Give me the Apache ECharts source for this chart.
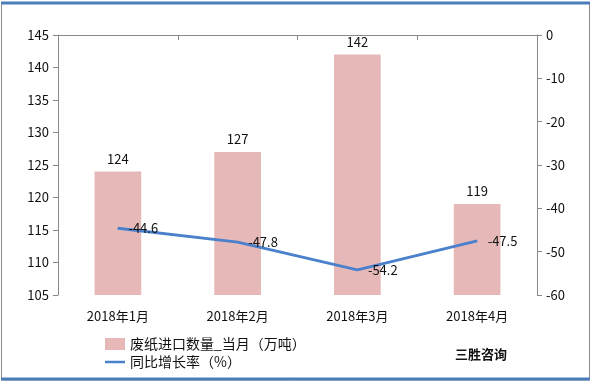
<!DOCTYPE html>
<html><head><meta charset="utf-8">
<script src="https://cdn.jsdelivr.net/npm/echarts@6/dist/echarts.min.js"></script>
<style>html,body{margin:0;padding:0;background:#fff}#c{width:591px;height:384px}</style>
</head><body><div id="c"></div>
<script>
const categories = ['2018年1月','2018年2月','2018年3月','2018年4月'];
const volume = [124, 127, 142, 119];
const growth = [-44.6, -47.8, -54.2, -47.5];
const seriesNames = ['废纸进口数量_当月（万吨）','同比增长率（%）'];

const chart = echarts.init(document.getElementById('c'));
const font = '"Microsoft YaHei","Noto Sans CJK SC",sans-serif';
chart.setOption({
  animation:false,
  textStyle:{fontFamily:font},
  graphic:[
    {type:'rect',shape:{x:1.5,y:3,width:588,height:377},style:{fill:'none',stroke:'#8a8a8a',lineWidth:1}},
    {type:'line',shape:{x1:1,y1:3,x2:590,y2:3},style:{stroke:'#4a7ebb',lineWidth:3}},
    {type:'line',shape:{x1:1,y1:379,x2:590,y2:379},style:{stroke:'#4a7ebb',lineWidth:3}},
    {type:'text',left:455,top:348,style:{text:'三胜咨询',font:'bold 13px '+font,fill:'#111'}}
  ],
  legend:{
    orient:'vertical',left:100,top:332,itemGap:4,itemWidth:20,itemHeight:12,
    textStyle:{fontSize:14,color:'#111',fontFamily:font},
    data:[{name:seriesNames[0],icon:'rect'},{name:seriesNames[1],icon:'path://M0,5 L20,5 L20,7.5 L0,7.5 Z'}]
  },
  grid:{left:58,right:54,top:35,bottom:89},
  xAxis:{type:'category',data:categories,
    axisLine:{lineStyle:{color:'#888'}},
    axisTick:{show:true,length:5,lineStyle:{color:'#888'}},
    axisLabel:{color:'#111',fontSize:13,margin:15,fontFamily:font}},
  yAxis:[
    {type:'value',min:105,max:145,interval:5,
     axisLine:{show:true,lineStyle:{color:'#888'}},
     axisTick:{show:true,length:5,lineStyle:{color:'#888'}},
     splitLine:{show:false},
     axisLabel:{color:'#111',fontSize:13,margin:9,fontFamily:font}},
    {type:'value',min:-60,max:0,interval:10,
     axisLine:{show:true,lineStyle:{color:'#888'}},
     axisTick:{show:true,length:5,lineStyle:{color:'#888'}},
     splitLine:{show:false},
     axisLabel:{color:'#111',fontSize:13,margin:9,fontFamily:font}}
  ],
  series:[
    {name:seriesNames[0],type:'bar',data:volume,barWidth:'39%',
     itemStyle:{color:'#e6b9b8'},
     label:{show:true,position:'top',color:'#111',fontSize:13,distance:6}},
    {name:seriesNames[1],type:'line',yAxisIndex:1,data:growth,
     showSymbol:true,symbol:'circle',symbolSize:1,
     lineStyle:{color:'#4b80cc',width:3},itemStyle:{color:'#4b80cc'},
     label:{show:true,position:'right',distance:10,color:'#111',fontSize:13}}
  ]
});
</script></body></html>
